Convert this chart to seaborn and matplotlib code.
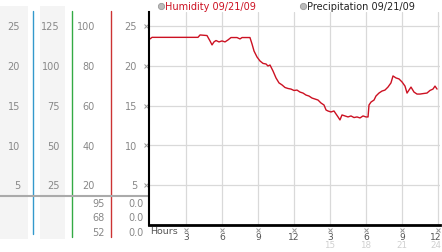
import matplotlib
matplotlib.use("Agg")
import matplotlib.pyplot as plt
import matplotlib.transforms as mtransforms
import seaborn as sns
import pandas as pd

# ---------------- data ----------------
hours = [0, 0.17, 1.67, 4.0, 4.17, 4.75, 5.0, 5.17, 5.33, 5.5, 5.75, 6.0, 6.25, 6.5,
         6.75, 7.25, 7.5, 7.67, 8.33, 8.5, 8.67, 8.92, 9.17, 9.42, 9.67, 9.83, 10.0,
         10.25, 10.5, 10.75, 11.0, 11.25, 11.5, 11.75, 12.0, 12.25, 12.5, 12.75, 13.0,
         13.25, 13.5, 13.75, 14.0, 14.25, 14.5, 14.67, 14.83, 15.08, 15.33, 15.5, 15.67,
         15.83, 16.0, 16.25, 16.5, 16.75, 17.0, 17.25, 17.5, 17.75, 18.0, 18.17, 18.25,
         18.42, 18.67, 18.83, 19.08, 19.33, 19.58, 19.83, 20.08, 20.25, 20.5, 20.75,
         21.0, 21.25, 21.42, 21.58, 21.75, 22.0, 22.25, 22.5, 22.83, 23.08, 23.33,
         23.58, 23.75, 23.92]
humidity = [93.5, 94.3, 94.3, 94.3, 95.5, 95.2, 92.5, 90.5, 92.0, 92.7, 92.0, 92.5, 92.0,
            93.0, 94.2, 94.2, 93.5, 94.2, 94.2, 91.0, 87.4, 84.4, 82.4, 81.2, 80.9, 79.9,
            80.4, 77.4, 73.9, 71.4, 70.4, 69.1, 68.6, 68.3, 67.6, 67.8, 66.8, 66.3, 65.3,
            64.8, 63.8, 63.3, 62.8, 61.3, 60.3, 57.8, 57.3, 56.8, 57.3, 55.8, 54.3, 52.8,
            55.3, 54.8, 54.3, 54.8, 54.0, 54.3, 53.8, 54.8, 54.3, 54.3, 60.3, 61.8, 62.8,
            64.8, 66.3, 67.3, 67.8, 69.3, 71.4, 74.9, 73.9, 73.4, 71.9, 69.8, 66.3, 67.8,
            69.3, 66.8, 65.8, 65.8, 66.1, 66.3, 67.6, 68.3, 69.8, 68.3]

col1_labels = ["25", "20", "15", "10", "5"]
col2_labels = ["125", "100", "75", "50", "25"]
col3_labels = ["100", "80", "60", "40", "20"]
col4_labels = ["25", "20", "15", "10", "5"]
summary_hum = ["95", "68", "52"]
summary_prec = ["0.0", "0.0", "0.0"]
xtick_hours = [3, 6, 9, 12, 15, 18, 21, 24]
xtick_row1 = ["3", "6", "9", "12", "3", "6", "9", "12"]
xtick_row2 = ["", "", "", "", "15", "18", "21", "24"]
legend_labels = ["Humidity 09/21/09", "Precipitation 09/21/09"]

df = pd.DataFrame({"hour": hours, "humidity": humidity})

sns.set_style("white")
plt.rcParams["font.family"] = ["DejaVu Sans"]

W, H = 442, 253
fig = plt.figure(figsize=(W / 100, H / 100), dpi=100)

# pixel layout of main plot
x0, x1, ybot, ytop = 149, 440, 226, 13
AH = ybot - ytop
ax = fig.add_axes([x0 / W, (H - ybot) / H, (x1 - x0) / W, AH / H])
sns.lineplot(data=df, x="hour", y="humidity", ax=ax, color="#cc1122", linewidth=1.0)
ax.set_xlim(-1 / 12, (x1 - 150) / 12)
ax.set_ylim(0, AH / 1.99)
ax.set_xlabel("")
ax.set_ylabel("")
for v in [20, 40, 60, 80, 100]:
    ax.axhline(v, color="#d9d9d9", lw=0.9, zorder=0)
for h in xtick_hours:
    ax.axvline(h, color="#d9d9d9", lw=0.9, zorder=0)
ax.set_yticks([])
ax.set_xticks(xtick_hours)
ax.set_xticklabels([])
ax.tick_params(axis="x", length=0)
for s in ["top", "right"]:
    ax.spines[s].set_visible(False)
ax.spines["left"].set_color("black")
ax.spines["left"].set_linewidth(1.5)
ax.spines["bottom"].set_color("black")
ax.spines["bottom"].set_linewidth(2)
xt = ax.get_xaxis_transform()
xt_last = mtransforms.offset_copy(xt, fig=fig, x=-2.5, y=0, units="dots")
for i, (h, l1, l2) in enumerate(zip(xtick_hours, xtick_row1, xtick_row2)):
    tr = xt_last if i == len(xtick_hours) - 1 else xt
    ax.text(h, -(237.5 - ybot) / AH, l1, transform=tr, ha="center", va="center",
            fontsize=6.6, color="#555555", clip_on=False)
    if l2:
        ax.text(h, -(246 - ybot) / AH, l2, transform=tr, ha="center", va="center",
                fontsize=6.3, color="#d0d0d0", clip_on=False)
    ax.plot([h], [-(231 - ybot) / AH], marker="x", ms=2.2, mew=0.7, color="#999999",
            transform=xt, clip_on=False)
ax.text(0.05, -(232 - ybot) / AH, "Hours", transform=xt, ha="left", va="center",
        fontsize=6.8, color="#555555", clip_on=False)
yt = ax.get_yaxis_transform()
for v in [20, 40, 60, 80, 100]:
    ax.plot([-0.012], [v], marker="x", ms=2.2, mew=0.7, color="#999999",
            transform=yt, clip_on=False)

# overlay in pixel coordinates for side panel & legend
ov = fig.add_axes([0, 0, 1, 1], zorder=-1)
ov.set_xlim(0, W)
ov.set_ylim(H, 0)
ov.axis("off")
ov.add_patch(plt.Rectangle((0, 7), 28, 233, color="#f4f4f4", lw=0))
ov.add_patch(plt.Rectangle((40, 7), 25, 233, color="#f4f4f4", lw=0))
ov.plot([33, 33], [12, 235], color="#3399cc", lw=1)
ov.plot([72, 72], [12, 238], color="#33aa44", lw=1)
ov.plot([111, 111], [12, 238], color="#cc3333", lw=1)
ov.plot([0, 149], [197, 197], color="#aaaaaa", lw=1.5)

row_y = [226 - v * 7.95 for v in [25, 20, 15, 10, 5]]
for labs, xr in [(col1_labels, 20), (col2_labels, 60), (col3_labels, 95), (col4_labels, 137)]:
    for lab, y in zip(labs, row_y):
        ov.text(xr, y, lab, ha="right", va="center", fontsize=7, color="#888888")
for i, (a, b) in enumerate(zip(summary_hum, summary_prec)):
    y = 204 + i * 14.5
    ov.text(105, y, a, ha="right", va="center", fontsize=7, color="#888888")
    ov.text(144, y, b, ha="right", va="center", fontsize=7, color="#888888")

# legend
fig.text(165 / W, 1 - 7 / H, legend_labels[0], ha="left", va="center", fontsize=7, color="#cc1122")
fig.text(307 / W, 1 - 7 / H, legend_labels[1], ha="left", va="center", fontsize=7, color="#222222")
ov.plot([160.5], [7], marker="o", ms=4.5, color="#bbbbbb", mec="#999999", mew=0.6)
ov.plot([302.5], [7], marker="o", ms=4.5, color="#bbbbbb", mec="#999999", mew=0.6)

fig.savefig("out.png", dpi=100)
